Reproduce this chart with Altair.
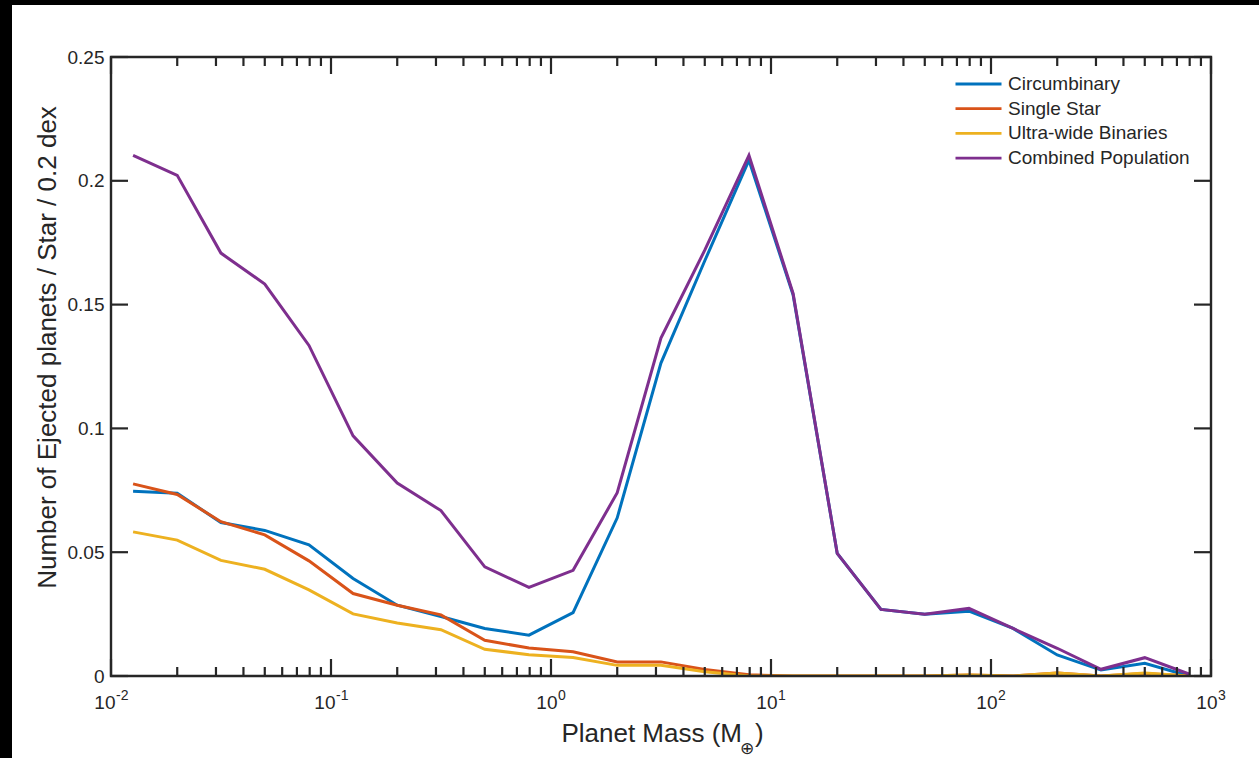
import altair as alt
import pandas as pd

# ---------------- data ----------------
mass = [0.0126, 0.02, 0.0316, 0.05, 0.0794, 0.126, 0.2, 0.316, 0.5, 0.794,
        1.26, 2.0, 3.16, 5.0, 7.94, 12.6, 20.0, 31.6, 50.0, 79.4,
        126.0, 200.0, 316.0, 500.0, 794.0]

circumbinary = [0.0746, 0.0738, 0.0620, 0.0588, 0.0530, 0.0394, 0.0286, 0.0240, 0.0192, 0.0165,
                0.0256, 0.0639, 0.1264, 0.1677, 0.2083, 0.1540, 0.0495, 0.0269, 0.0249, 0.0262,
                0.0192, 0.0085, 0.0024, 0.0051, 0.0000]
single_star = [0.0776, 0.0733, 0.0623, 0.0570, 0.0465, 0.0333, 0.0286, 0.0247, 0.0144, 0.0113,
               0.0098, 0.0057, 0.0057, 0.0026, 0.0005, 0.0000, 0.0000, 0.0000, 0.0000, 0.0004,
               0.0000, 0.0012, 0.0000, 0.0010, 0.0000]
ultra_wide = [0.0582, 0.0549, 0.0467, 0.0431, 0.0348, 0.0251, 0.0214, 0.0187, 0.0108, 0.0086,
              0.0075, 0.0043, 0.0043, 0.0017, 0.0000, 0.0000, 0.0000, 0.0000, 0.0000, 0.0004,
              0.0000, 0.0012, 0.0000, 0.0012, 0.0000]
combined = [0.2103, 0.2022, 0.1708, 0.1583, 0.1335, 0.0970, 0.0779, 0.0668, 0.0441, 0.0358,
            0.0427, 0.0740, 0.1365, 0.1720, 0.2103, 0.1545, 0.0495, 0.0269, 0.0249, 0.0273,
            0.0192, 0.0112, 0.0027, 0.0074, 0.0008]

series_names = ["Circumbinary", "Single Star", "Ultra-wide Binaries", "Combined Population"]
series_colors = ["#0072BD", "#D95319", "#EDB120", "#7E2F8E"]

x_major = [0.01, 0.1, 1, 10, 100, 1000]
x_exponents = ["-2", "-1", "0", "1", "2", "3"]
x_minor = [m * d for d in [0.01, 0.1, 1, 10, 100] for m in range(2, 10)]
y_ticks = [0, 0.05, 0.1, 0.15, 0.2, 0.25]

x_title = "Planet Mass (M"
x_title_sub = "\u2295"
x_title_end = ")"
y_title = "Number of Ejected planets / Star / 0.2 dex"

# ---------------- layout ----------------
W, H = 1100, 619
INK = "#262626"
FONT = "Liberation Sans"

rows = []
for name, vals in zip(series_names, [circumbinary, single_star, ultra_wide, combined]):
    for m, v in zip(mass, vals):
        rows.append({"mass": m, "value": v, "series": name})
df = pd.DataFrame(rows)

xscale = alt.Scale(type="log", domain=[0.01, 1000], nice=False)
yscale = alt.Scale(domain=[0, 0.25], nice=False, zero=False)
cscale = alt.Scale(domain=series_names, range=series_colors)

XAX = alt.Axis(labels=False, ticks=False, domain=False, grid=False, title=None)
YAX = alt.Axis(values=y_ticks, format="~g", ticks=False, domain=False, grid=False,
               labelFontSize=19, labelPadding=7, labelColor=INK, labelFont=FONT,
               title=y_title, titleFontSize=26, titleFontWeight="normal",
               titleColor=INK, titleFont=FONT, titleX=-56, titleY=290,
               titleBaseline="alphabetic")

legend = alt.Legend(
    orient="none", legendX=843, legendY=16, title=None,
    symbolType="stroke", symbolSize=2116, symbolStrokeWidth=2.8,
    labelFontSize=19, labelColor=INK, labelFont=FONT, labelOffset=5, labelLimit=400,
    clipHeight=22, rowPadding=2.7, padding=0)

def line_layer(name):
    return alt.Chart(df).transform_filter(alt.datum.series == name).mark_line(
        strokeWidth=3, clip=True
    ).encode(
        x=alt.X("mass:Q", scale=xscale, axis=XAX),
        y=alt.Y("value:Q", scale=yscale, axis=YAX),
        color=alt.Color("series:N", scale=cscale, legend=legend),
    )

lines = [line_layer(n) for n in series_names]

xmaj_df = pd.DataFrame({"t": x_major, "e": x_exponents})
xmin_df = pd.DataFrame({"t": x_minor})
y_df = pd.DataFrame({"t": y_ticks})

def xrule(data, y0, y1):
    return alt.Chart(data).mark_rule(color=INK, strokeWidth=2.2).encode(
        x=alt.X("t:Q", scale=xscale, axis=XAX), y=alt.value(y0), y2=alt.value(y1))

def yrule(x0, x1):
    return alt.Chart(y_df).mark_rule(color=INK, strokeWidth=2.2).encode(
        y=alt.Y("t:Q", scale=yscale, axis=YAX), x=alt.value(x0), x2=alt.value(x1))

ticks = [
    xrule(xmaj_df, H, H - 17), xrule(xmin_df, H, H - 9),
    xrule(xmaj_df, 0, 17), xrule(xmin_df, 0, 9),
    yrule(0, 17), yrule(W, W - 17),
]

def xlabel(data, dx):
    base = alt.Chart(data).mark_text(align="right", baseline="alphabetic", fontSize=19,
                                     font=FONT, color=INK, dx=dx).encode(
        x=alt.X("t:Q", scale=xscale, axis=XAX), y=alt.value(H + 33), text=alt.value("10"))
    exp = alt.Chart(data).mark_text(align="left", baseline="alphabetic", fontSize=14,
                                    font=FONT, color=INK, dx=dx + 0.5).encode(
        x=alt.X("t:Q", scale=xscale, axis=XAX), y=alt.value(H + 24), text="e:N")
    return [base, exp]

labels = xlabel(xmaj_df.iloc[:2], 4.5) + xlabel(xmaj_df.iloc[2:], 6.5)

one = pd.DataFrame({"a": [0]})
xt1 = alt.Chart(one).mark_text(align="right", baseline="alphabetic", fontSize=26, font=FONT,
                               color=INK).encode(x=alt.value(631), y=alt.value(H + 66),
                                                 text=alt.value(x_title))
xt2 = alt.Chart(one).mark_text(align="left", baseline="alphabetic", fontSize=17, font="DejaVu Sans",
                               color=INK).encode(x=alt.value(629), y=alt.value(H + 78),
                                                 text=alt.value(x_title_sub))
xt3 = alt.Chart(one).mark_text(align="left", baseline="alphabetic", fontSize=26, font=FONT,
                               color=INK).encode(x=alt.value(644), y=alt.value(H + 66),
                                                 text=alt.value(x_title_end))

box = alt.Chart(one).mark_rect(fill=None, stroke=INK, strokeWidth=2.4, fillOpacity=0).encode(
    x=alt.value(0), x2=alt.value(W), y=alt.value(0), y2=alt.value(H))

frame_left = alt.Chart(one).mark_rect(color="black").encode(
    x=alt.value(-111), x2=alt.value(-99), y=alt.value(-57), y2=alt.value(H + 82))
frame_top = alt.Chart(one).mark_rect(color="black").encode(
    x=alt.value(-111), x2=alt.value(W + 48), y=alt.value(-57), y2=alt.value(-52))

chart = alt.layer(*lines, *ticks, box, *labels, xt1, xt2, xt3, frame_left, frame_top).properties(
    width=W, height=H,
    padding={"left": 111, "top": 57, "right": 48, "bottom": 82},
    autosize=alt.AutoSizeParams(type="none"),
    background="white",
).configure_view(stroke=None, fill="white").configure(font=FONT)

chart.save("out.html", embed_options={"renderer": "svg", "actions": False})
